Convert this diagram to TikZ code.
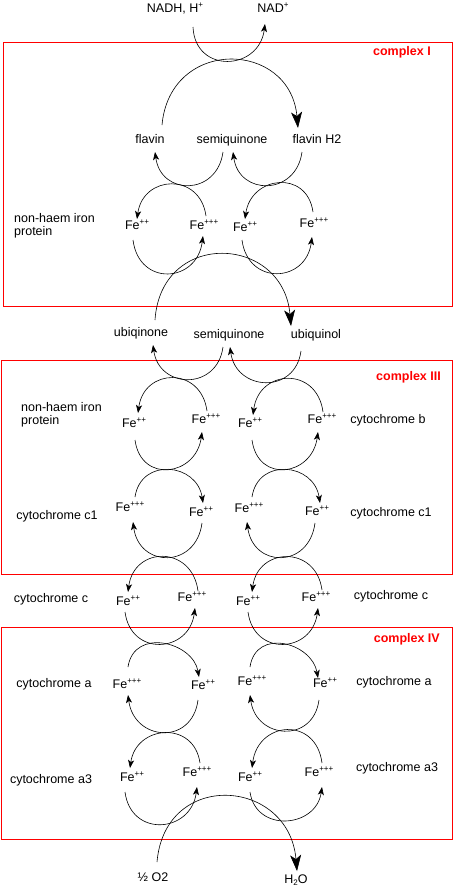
\documentclass[tikz,border=0pt]{standalone}
\usepackage{fontspec}
\setmainfont{Liberation Sans}
\usetikzlibrary{arrows.meta}
\newcommand\mysup[1]{\raisebox{4.5pt}{\fontsize{8}{8}\selectfont #1}}
\begin{document}
\begin{tikzpicture}[x=1pt,y=-1pt,
  every node/.style={font=\fontsize{12.5}{13.5}\selectfont, inner sep=0pt},
  lbl/.style={text height=9pt, text depth=2.5pt},
  two/.style={align=left, anchor=west},
  clbl/.style={text=red, font=\fontsize{12.5}{13.5}\selectfont\bfseries, anchor=east, text height=9pt, text depth=2.5pt},
  cbox/.style={draw=red, line width=1pt},
  arr/.style={line width=0.6pt, -{Stealth[length=8pt,width=6pt,inset=2pt]}},
  bigarr/.style={line width=0.6pt, -{Stealth[length=16pt,width=11pt,inset=4pt]}}]
\useasboundingbox (0,0) rectangle (453,892);
% complexes
\draw[cbox] (3,42) rectangle (452,306);
\draw[cbox] (1,360) rectangle (452,574);
\draw[cbox] (1,627) rectangle (452,839);
\node[clbl] (cI) at (431,52) {complex I};
\node[clbl] (cIII) at (441,377) {complex III};
\node[clbl] (cIV) at (440,639) {complex IV};
% complex I
\node[lbl] (nadh) at (175,9) {NADH, H\mysup{+}};
\node[lbl] (nad) at (273,9) {NAD\mysup{+}};
\node[lbl] (flavin) at (150,140) {flavin};
\node[lbl] (semiA) at (232,140) {semiquinone};
\node[lbl] (flavinH) at (317,140) {flavin H2};
\node[two] (nhA) at (14,226) {non-haem iron\\protein};
\node[lbl] (fA1) at (137,226) {Fe\mysup{++}};
\node[lbl] (fA2) at (204,226) {Fe\mysup{+++}};
\node[lbl] (fA3) at (245,228) {Fe\mysup{++}};
\node[lbl] (fA4) at (314,224) {Fe\mysup{+++}};
% ubiquinone
\node[lbl] (ubi) at (141,333) {ubiqinone};
\node[lbl] (semiB) at (229,335) {semiquinone};
\node[lbl] (ubol) at (316,335) {ubiquinol};
% complex III
\node[two] (nhB) at (21,415) {non-haem iron\\protein};
\node[lbl] (fB1) at (134,424) {Fe\mysup{++}};
\node[lbl] (fB2) at (206,420) {Fe\mysup{+++}};
\node[lbl] (fB3) at (250,424) {Fe\mysup{++}};
\node[lbl] (fB4) at (322,420) {Fe\mysup{+++}};
\node[lbl] (cytb) at (388,420) {cytochrome b};
\node[lbl] (fC1) at (130,508) {Fe\mysup{+++}};
\node[lbl] (fC2) at (201,513) {Fe\mysup{++}};
\node[lbl] (fC3) at (249,509) {Fe\mysup{+++}};
\node[lbl] (fC4) at (317,512) {Fe\mysup{++}};
\node[lbl] (cc1L) at (57,516) {cytochrome c1};
\node[lbl] (cc1R) at (391,513) {cytochrome c1};
% cytochrome c
\node[lbl] (fD1) at (128,602) {Fe\mysup{++}};
\node[lbl] (fD2) at (192,598) {Fe\mysup{+++}};
\node[lbl] (fD3) at (248,602) {Fe\mysup{++}};
\node[lbl] (fD4) at (316,598) {Fe\mysup{+++}};
\node[lbl] (ccL) at (51,599) {cytochrome c};
\node[lbl] (ccR) at (391,596) {cytochrome c};
% complex IV
\node[lbl] (fE1) at (127,685) {Fe\mysup{+++}};
\node[lbl] (fE2) at (203,686) {Fe\mysup{++}};
\node[lbl] (fE3) at (252,682) {Fe\mysup{+++}};
\node[lbl] (fE4) at (325,684) {Fe\mysup{++}};
\node[lbl] (caL) at (54,684) {cytochrome a};
\node[lbl] (caR) at (394,682) {cytochrome a};
\node[lbl] (fF1) at (132,778) {Fe\mysup{++}};
\node[lbl] (fF2) at (197,773) {Fe\mysup{+++}};
\node[lbl] (fF3) at (250,778) {Fe\mysup{++}};
\node[lbl] (fF4) at (319,773) {Fe\mysup{+++}};
\node[lbl] (ca3L) at (51,780) {cytochrome a3};
\node[lbl] (ca3R) at (397,768) {cytochrome a3};
\node[lbl] (o2) at (153,878) {½ O2};
\node[lbl] (h2o) at (296,880) {H\raisebox{-2.5pt}{\fontsize{8}{8}\selectfont 2}O};
% ---- connectors ----
\draw[arr] ([shift={(18,18)}]nadh.center) .. controls +(2,47) and +(-6,47) .. ([shift={(-8,15)}]nad.center);
\draw[bigarr] ([shift={(12,-15)}]flavin.center) .. controls +(8,-88) and +(-8,-88) .. ([shift={(-19,-12)}]flavinH.center);
\draw[arr] ([shift={(-9,12)}]semiA.center) .. controls +(-6,44) and +(6,44) .. ([shift={(5,12)}]flavin.center);
\draw[arr] ([shift={(-15,12)}]flavinH.center) .. controls +(-6,44) and +(6,44) .. ([shift={(1,12)}]semiA.center);
\draw[arr] ([shift={(2,-10)}]fA2.center) .. controls +(-6,-44) and +(6,-44) .. ([shift={(0,-7)}]fA1.center);
\draw[arr] ([shift={(-1,-12)}]fA4.center) .. controls +(-6,-43) and +(6,-43) .. ([shift={(0,-9)}]fA3.center);
\draw[arr] ([shift={(-4,14)}]fA1.center) .. controls +(6,47) and +(-6,47) .. ([shift={(-1,10)}]fA2.center);
\draw[arr] ([shift={(-3,12)}]fA3.center) .. controls +(6,46) and +(-6,46) .. ([shift={(-2,13)}]fA4.center);
\draw[bigarr] ([shift={(14,-13)}]ubi.center) .. controls +(6,-91) and +(-8,-91) .. ([shift={(-25,-9)}]ubol.center);
\draw[arr] ([shift={(-6,12)}]semiB.center) .. controls +(-6,44) and +(6,44) .. ([shift={(12,12)}]ubi.center);
\draw[arr] ([shift={(-15,16)}]ubol.center) .. controls +(-6,44) and +(6,44) .. ([shift={(1,12)}]semiB.center);
\draw[arr] ([shift={(1,-9)}]fB2.center) .. controls +(-6,-45) and +(6,-45) .. ([shift={(4,-11)}]fB1.center);
\draw[arr] ([shift={(1,-8)}]fB4.center) .. controls +(-6,-46) and +(6,-46) .. ([shift={(3,-9)}]fB3.center);
\draw[arr] ([shift={(1,16)}]fB1.center) .. controls +(6,44) and +(-6,44) .. ([shift={(-4,12)}]fB2.center);
\draw[arr] ([shift={(2,16)}]fB3.center) .. controls +(6,44) and +(-6,44) .. ([shift={(-4,12)}]fB4.center);
\draw[arr] ([shift={(5,-11)}]fC1.center) .. controls +(6,-40) and +(-6,-40) .. ([shift={(2,-10)}]fC2.center);
\draw[arr] ([shift={(3,-12)}]fC3.center) .. controls +(6,-40) and +(-6,-40) .. ([shift={(3,-9)}]fC4.center);
\draw[arr] ([shift={(1,10)}]fC2.center) .. controls +(-6,46) and +(6,46) .. ([shift={(3,14)}]fC1.center);
\draw[arr] ([shift={(-2,11)}]fC4.center) .. controls +(-6,46) and +(6,46) .. ([shift={(-2,13)}]fC3.center);
\draw[arr] ([shift={(6,-7)}]fD2.center) .. controls +(-6,-46) and +(6,-46) .. ([shift={(0,-10)}]fD1.center);
\draw[arr] ([shift={(6,-8)}]fD4.center) .. controls +(-6,-45) and +(6,-45) .. ([shift={(4,-10)}]fD3.center);
\draw[arr] ([shift={(-3,10)}]fD1.center) .. controls +(6,45) and +(-6,45) .. ([shift={(3,10)}]fD2.center);
\draw[arr] ([shift={(0,10)}]fD3.center) .. controls +(6,45) and +(-6,45) .. ([shift={(2,10)}]fD4.center);
\draw[arr] ([shift={(1,-18)}]fE1.center) .. controls +(6,-40) and +(-6,-35) .. ([shift={(-4,-9)}]fE2.center);
\draw[arr] ([shift={(-2,-15)}]fE3.center) .. controls +(6,-40) and +(-6,-35) .. ([shift={(-7,-6)}]fE4.center);
\draw[arr] ([shift={(-5,14)}]fE2.center) .. controls +(-6,46) and +(6,46) .. ([shift={(1,10)}]fE1.center);
\draw[arr] ([shift={(-6,16)}]fE4.center) .. controls +(-6,44) and +(6,44) .. ([shift={(-2,13)}]fE3.center);
\draw[arr] ([shift={(3,-10)}]fF2.center) .. controls +(-6,-43) and +(6,-43) .. ([shift={(-2,-10)}]fF1.center);
\draw[arr] ([shift={(3,-10)}]fF4.center) .. controls +(-6,-47) and +(6,-47) .. ([shift={(2,-10)}]fF3.center);
\draw[arr] ([shift={(-7,14)}]fF1.center) .. controls +(6,46) and +(-6,46) .. ([shift={(0,14)}]fF2.center);
\draw[arr] ([shift={(0,14)}]fF3.center) .. controls +(6,41) and +(-6,41) .. ([shift={(3,14)}]fF4.center);
\draw[bigarr] ([shift={(4,-16)}]o2.center) .. controls +(8,-93) and +(-8,-93) .. ([shift={(1,-9)}]h2o.center);
\end{tikzpicture}
\end{document}
